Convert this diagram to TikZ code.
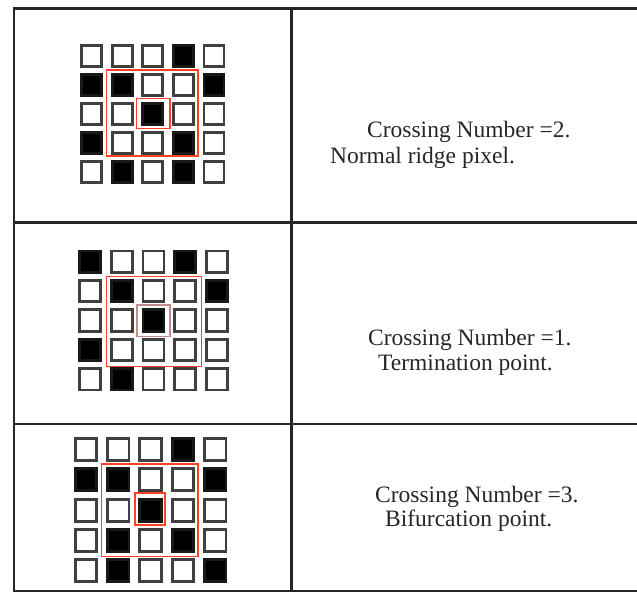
\documentclass[tikz,border=0pt]{standalone}
\usepackage{fontspec}
\setmainfont{Liberation Serif}
\begin{document}
\begin{tikzpicture}[x=1pt,y=-1pt,
  rule/.style={line width=2.2pt,draw=black!85},
  wsq/.style={draw=black!75,line width=2.8pt,fill=white,inner sep=0pt},
  bsq/.style={draw=black!90,line width=2.8pt,fill=black,inner sep=0pt},
  redbox/.style={draw=red!75!orange!85!white,line width=1.1pt},
  redinner/.style={draw=red!45!black!45,line width=1.1pt},
  lbl/.style={font=\fontsize{23.5}{27}\selectfont,text=black!85,anchor=base west,inner sep=0pt}]
\useasboundingbox (0,0) rectangle (637,594);
% table
\coordinate (tl) at (14,8.5);
\coordinate (tr) at (637,8.5);
\coordinate (bl) at (14,591);
\coordinate (br) at (637,591);
\coordinate (vt) at (291.5,8.5);
\coordinate (vb) at (291.5,591);
\coordinate (s1l) at (14,222.5);
\coordinate (s1r) at (637,222.5);
\coordinate (s2l) at (14,424);
\coordinate (s2r) at (637,424);
\draw[rule] (tr) -- (tl) -- (bl) -- (br);
\draw[rule] (vt) -- (vb);
\draw[rule] (s1l) -- (s1r);
\draw[rule] (s2l) -- (s2r);
% grids
\foreach \g/\xo/\dx/\yo/\dy/\w/\h/\pat in {
  1/91.5/30.6/55.7/29/20/21/{0,0,0,1,0, 1,1,0,0,1, 0,0,1,0,0, 1,0,0,1,0, 0,1,0,1,0},
  2/90/31.7/261.7/29.4/21/21.5/{1,0,0,1,0, 0,1,0,0,1, 0,0,1,0,0, 1,0,0,0,0, 0,1,0,0,0},
  3/86/32.3/449.5/30.3/21.5/22/{0,0,0,1,0, 1,1,0,0,1, 0,0,1,0,0, 0,1,0,1,0, 0,1,0,0,1}} {
  \foreach \v [count=\i from 0] in \pat {
    \pgfmathtruncatemacro{\r}{int(\i/5)}
    \pgfmathtruncatemacro{\c}{mod(\i,5)}
    \ifnum\v=1
      \node[bsq,minimum width=\w pt,minimum height=\h pt] (g\g-\r-\c) at ({\xo+\c*\dx},{\yo+\r*\dy}) {};
    \else
      \node[wsq,minimum width=\w pt,minimum height=\h pt] (g\g-\r-\c) at ({\xo+\c*\dx},{\yo+\r*\dy}) {};
    \fi
  }
}
% red frames
\draw[redbox] (106.7,70) rectangle (198,156);
\draw[redbox] (136.7,98.3) rectangle (170,128.3);
\draw[redbox] (106.7,276.7) rectangle (201.7,366.7);
\draw[redinner] (137,305) rectangle (170,336.7);
\draw[redbox] (101.7,464) rectangle (198,556.7);
\draw[redbox] (135,493) rectangle (165,525);
% labels
\node[lbl] (t1a) at (367,137) {Crossing Number =2.};
\node[lbl] (t1b) at (330,163) {Normal ridge pixel.};
\node[lbl] (t2a) at (368,345) {Crossing Number =1.};
\node[lbl] (t2b) at (378,370) {Termination point.};
\node[lbl] (t3a) at (375,502) {Crossing Number =3.};
\node[lbl] (t3b) at (385,526) {Bifurcation point.};
\end{tikzpicture}
\end{document}
